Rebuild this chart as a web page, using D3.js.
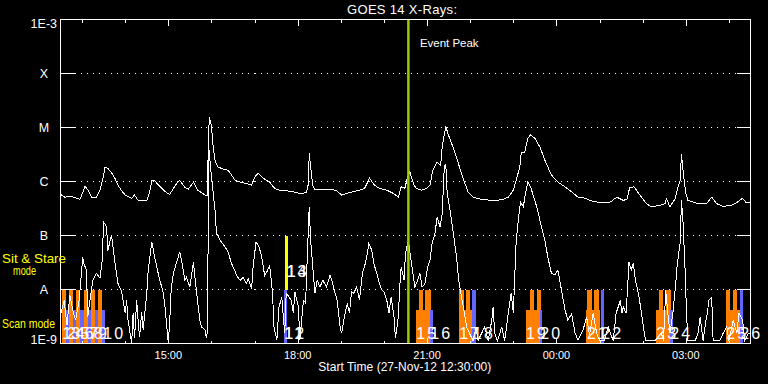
<!DOCTYPE html>
<html><head><meta charset="utf-8">
<script src="https://cdn.jsdelivr.net/npm/d3@7"></script>
<style>html,body{margin:0;padding:0;background:#000;}svg{display:block;}</style>
</head><body>
<svg id="chart" width="768" height="384"></svg>
<script>
// ---------------- data ----------------
const titleText = "GOES 14 X-Rays:";
const startText = "Start Time (27-Nov-12 12:30:00)";
const eventText = "Event Peak";
const startTime = Date.UTC(2012, 10, 27, 12, 30);
const spanMinutes = 960;
const levelValues = [-9, -8, -7, -6, -5, -4, -3];          // log10 flux (W/m^2)
const levelLabels = ["1E-9", "A", "B", "C", "M", "X", "1E-3"];
const eventPeakMinute = 484;

// [minutes after start, log10 flux]
const longChannel = [[0,-6.24],[6,-6.29],[15,-6.27],[20,-6.30],[27,-6.33],[31,-6.20],[34,-6.09],[38,-6.15],[43,-6.29],[50,-6.29],[55,-6.16],[59,-5.95],[62,-5.73],[66,-5.76],[71,-5.84],[76,-5.95],[80,-6.07],[85,-6.17],[90,-6.25],[99,-6.31],[103,-6.25],[108,-6.35],[120,-6.35],[124,-6.20],[127,-5.98],[131,-5.98],[135,-6.05],[141,-6.13],[147,-6.20],[152,-6.24],[157,-6.13],[162,-6.03],[166,-5.98],[173,-6.11],[178,-6.14],[185,-6.01],[191,-6.16],[201,-6.25],[204,-6.25],[206,-5.2],[207,-4.80],[210,-4.96],[212,-5.3],[215,-5.61],[219,-5.73],[226,-5.77],[233,-5.79],[238,-5.88],[243,-5.98],[250,-6.01],[259,-6.04],[266,-6.07],[270,-5.92],[275,-5.85],[282,-5.94],[291,-6.01],[298,-6.13],[305,-6.16],[314,-6.17],[324,-6.19],[333,-6.22],[342,-6.21],[345,-6.04],[346,-5.48],[348,-5.73],[351,-6.07],[354,-6.15],[361,-6.14],[370,-6.15],[377,-6.14],[384,-6.17],[391,-6.25],[398,-6.22],[407,-6.19],[416,-6.16],[423,-6.13],[430,-5.94],[437,-6.07],[444,-6.13],[454,-6.16],[463,-6.22],[470,-6.29],[474,-6.10],[479,-6.13],[483,-5.91],[486,-5.82],[491,-6.04],[495,-6.13],[502,-6.16],[509,-6.13],[514,-6.07],[518,-5.79],[524,-5.64],[529,-5.70],[531,-5.36],[536,-4.98],[539,-5.11],[546,-5.36],[553,-5.64],[560,-5.94],[567,-6.19],[574,-6.29],[586,-6.33],[600,-6.35],[614,-6.34],[623,-6.29],[630,-6.16],[634,-5.98],[639,-5.73],[641,-5.47],[646,-5.46],[650,-5.20],[654,-5.14],[660,-5.20],[667,-5.36],[674,-5.61],[683,-5.88],[692,-6.01],[702,-6.10],[711,-6.19],[720,-6.29],[730,-6.31],[736,-6.35],[750,-6.39],[764,-6.39],[774,-6.29],[783,-6.35],[788,-6.33],[792,-6.11],[798,-6.10],[806,-6.25],[815,-6.41],[822,-6.47],[834,-6.44],[841,-6.41],[843,-6.32],[848,-6.47],[855,-6.32],[858,-6.16],[862,-5.98],[864,-5.50],[867,-5.90],[870,-6.22],[873,-6.35],[885,-6.40],[899,-6.41],[906,-6.29],[913,-6.41],[922,-6.46],[934,-6.44],[941,-6.39],[949,-6.31],[954,-6.39],[960,-6.40]];

const shortChannel = [[0,-8.48],[5,-8.2],[9,-8.66],[13,-8.1],[17,-8.38],[21,-8.57],[26,-8.2],[31,-7.40],[32,-7.50],[36,-7.64],[38,-8.5],[41,-8.2],[45,-7.83],[50,-7.70],[55,-7.79],[58,-7.46],[60,-6.75],[64,-6.84],[66,-7.28],[69,-7.09],[71,-7.00],[76,-7.52],[80,-7.89],[85,-8.04],[90,-8.44],[92,-8.2],[94,-8.57],[99,-9.0],[101,-8.44],[103,-8.9],[106,-8.2],[108,-8.57],[110,-8.88],[113,-8.42],[115,-8.75],[120,-8.07],[122,-7.64],[127,-7.12],[131,-7.40],[138,-7.83],[142,-8.0],[145,-8.26],[150,-9.0],[152,-8.57],[154,-8.0],[157,-7.70],[161,-7.52],[166,-7.30],[170,-7.58],[173,-7.83],[175,-7.77],[180,-7.95],[185,-7.49],[187,-7.77],[191,-8.26],[194,-8.57],[196,-8.69],[201,-8.75],[203,-8.9],[204.5,-8.75],[206.3,-5.36],[210,-5.91],[215,-6.53],[217,-6.96],[222,-7.09],[229,-7.21],[233,-7.30],[238,-7.52],[243,-7.67],[245,-7.74],[250,-7.83],[254,-7.78],[259,-7.89],[261,-7.80],[266,-7.98],[268,-7.58],[272,-7.12],[276,-7.20],[280,-7.40],[284,-7.74],[288,-7.65],[291,-7.55],[295,-8.07],[297,-8.69],[301,-8.94],[304,-8.32],[308,-8.15],[310,-8.51],[312,-8.81],[314,-8.07],[318,-8.14],[321,-8.20],[324,-8.44],[326,-8.04],[331,-8.32],[333,-8.94],[338,-8.20],[341,-8.25],[343,-7.52],[346,-6.47],[348,-7.09],[351,-7.58],[354,-8.07],[357,-7.83],[361,-7.95],[365,-7.83],[370,-7.95],[375,-7.74],[378,-7.85],[382,-8.07],[385,-8.20],[389,-8.69],[391,-8.81],[396,-8.44],[399,-8.26],[402,-8.44],[405,-8.04],[408,-8.07],[412,-7.95],[416,-8.20],[420,-7.70],[423,-7.58],[427,-7.33],[429,-7.15],[433,-7.27],[436,-7.52],[440,-7.70],[443,-7.85],[447,-8.01],[450,-8.04],[454,-8.20],[457,-8.44],[460,-8.14],[464,-8.51],[466,-8.90],[470,-8.51],[472,-7.95],[474,-7.58],[478,-7.83],[480,-7.33],[484,-7.09],[487,-7.40],[491,-7.77],[493,-7.95],[497,-7.83],[500,-7.70],[503,-7.95],[507,-7.90],[511,-7.58],[514,-7.46],[517,-7.15],[521,-6.96],[524,-6.66],[528,-6.84],[531,-6.60],[534,-5.73],[536,-5.67],[538,-6.22],[542,-6.53],[546,-6.90],[551,-7.40],[554,-7.83],[558,-8.14],[562,-8.44],[565,-8.69],[569,-8.81],[574,-8.95],[578,-8.70],[581,-8.94],[586,-8.81],[590,-8.69],[595,-8.95],[600,-8.57],[602,-8.32],[604,-8.81],[608,-8.95],[614,-8.69],[618,-8.95],[623,-8.44],[627,-8.07],[630,-8.44],[632,-7.77],[634,-7.09],[638,-6.59],[640,-6.38],[644,-6.47],[646,-6.29],[650,-6.01],[654,-6.10],[660,-6.35],[665,-6.59],[669,-6.84],[674,-7.09],[678,-7.40],[683,-7.70],[688,-7.73],[692,-7.64],[697,-8.01],[702,-8.38],[706,-8.57],[711,-8.45],[716,-8.81],[720,-8.94],[725,-8.81],[727,-8.75],[732,-8.51],[736,-8.85],[741,-8.44],[746,-8.81],[750,-8.95],[757,-8.95],[762,-8.69],[769,-8.95],[773,-8.44],[776,-8.32],[779,-8.20],[781,-8.44],[783,-8.32],[787,-8.44],[789,-7.95],[791,-7.49],[794,-7.64],[797,-7.52],[800,-7.83],[804,-8.07],[807,-8.32],[811,-8.69],[814,-8.94],[827,-8.95],[836,-8.81],[839,-8.95],[842,-8.01],[845,-8.44],[848,-8.81],[852,-8.44],[856,-7.89],[858,-7.55],[862,-7.15],[864,-6.35],[866,-6.72],[869,-7.64],[871,-8.44],[873,-8.95],[883,-8.95],[887,-8.81],[890,-8.51],[894,-8.95],[898,-8.57],[900,-8.44],[902,-8.20],[906,-8.14],[908,-8.95],[917,-8.95],[922,-8.81],[927,-8.69],[930,-8.95],[936,-8.57],[941,-8.81],[944,-8.44],[949,-8.57],[952,-8.95],[957,-8.81],[960,-8.81]];

// observation bars: [start minute, end minute, kind]
const obsBars = [
  [6,61.6,"blueShort"],
  [1.4,7.4,"orangeTall"],[11.5,17.5,"orangeTall"],[21.3,27.8,"orangeTall"],[32,37.6,"orangeTall"],[42.2,48.1,"orangeTall"],[52.3,57.9,"orangeTall"],
  [311,314.5,"blueTall"],[313,317,"stare"],
  [494.3,513.8,"orangeShort"],[498.5,504.5,"orangeTall"],[507.8,514.8,"orangeTall"],[513.8,518.4,"blueShort"],
  [554.2,574,"orangeShort"],[554.2,561.1,"orangeTall"],[564,569.6,"orangeTall"],[573.2,577.4,"blueTall"],
  [647,668.3,"orangeShort"],[653,658.6,"orangeTall"],[662.7,668.3,"orangeTall"],[666.8,670.6,"blueShort"],
  [731.8,751.3,"orangeShort"],[732.6,738.8,"orangeTall"],[742.4,749,"orangeTall"],[751.7,755.9,"blueTall"],
  [828.2,847.7,"orangeShort"],[832.8,838.4,"orangeTall"],[842.2,848.7,"orangeTall"],[847.7,851.5,"blueShort"],
  [925.6,945.1,"orangeShort"],[925.6,931.2,"orangeTall"],[935,941.4,"orangeTall"],[945.1,948.9,"blueTall"]
];
// observation numbers: [label, minute, band]
const obsLabels = [
  ["1",1.8,"scan"],["2",8.1,"scan"],["3",14.3,"scan"],["4",20.6,"scan"],["5",26.9,"scan"],
  ["6",33.1,"scan"],["7",39.4,"scan"],["8",45.6,"scan"],["9",51.9,"scan"],["10",58.9,"scan"],
  ["11",310.7,"scan"],["12",310.7,"scan"],["13",314,"stare"],["14",314,"stare"],
  ["15",494.3,"scan"],["16",513.8,"scan"],["17",554.2,"scan"],["18",573.2,"scan"],
  ["19",647,"scan"],["20",666.8,"scan"],["21",731.8,"scan"],["22",751.7,"scan"],
  ["23",828.2,"scan"],["24",847.7,"scan"],["25",925.6,"scan"],["26",945.1,"scan"]
];

// ---------------- styles ----------------
const barStyle = {
  orangeTall:  {color:"#ff8000", top:-8,    bottom:-9},
  orangeShort: {color:"#ff8000", top:-8.38, bottom:-9},
  blueShort:   {color:"#6464ff", top:-8.38, bottom:-9},
  blueTall:    {color:"#6464ff", top:-8,    bottom:-9},
  stare:       {color:"#ffff00", top:-7,    bottom:-8}
};
const FONT = "'Liberation Sans', Arial, sans-serif";

// ---------------- chart ----------------
const svg = d3.select("#chart");
svg.append("rect").attr("width",768).attr("height",384).attr("fill","#000");

const t0 = new Date(startTime);
const tAt = m => new Date(startTime + m * 60000);
const L = 60.5, R = 750.5, T = 19.5, B = 343.5;
const x = d3.scaleUtc().domain([t0, tAt(spanMinutes)]).range([L, R]);
const y = d3.scaleLinear().domain([-9, -3]).range([B, T]);

// dotted grid
const inner = levelValues.slice(1, -1);
svg.append("g").selectAll("line").data(inner).join("line")
  .attr("x1", L + 14).attr("x2", R - 14)
  .attr("y1", d => y(d)).attr("y2", d => y(d))
  .attr("stroke","#fff").attr("stroke-width",1).attr("stroke-dasharray","1,5")
  .attr("shape-rendering","crispEdges");

// bars
svg.append("g").selectAll("rect").data(obsBars).join("rect")
  .attr("x", d => x(tAt(d[0])))
  .attr("width", d => x(tAt(d[1])) - x(tAt(d[0])))
  .attr("y", d => y(barStyle[d[2]].top))
  .attr("height", d => y(barStyle[d[2]].bottom) - y(barStyle[d[2]].top))
  .attr("fill", d => barStyle[d[2]].color)
  .attr("shape-rendering","crispEdges");

// curves
const line = d3.line().x(d => x(tAt(d[0]))).y(d => y(Math.max(-9, Math.min(-3, d[1]))));
[longChannel, shortChannel].forEach(s => {
  svg.append("path").datum(s).attr("d", line)
    .attr("fill","none").attr("stroke","#fff").attr("stroke-width",1)
    .attr("shape-rendering","crispEdges");
});

// event peak line
svg.append("line")
  .attr("x1", x(tAt(eventPeakMinute))).attr("x2", x(tAt(eventPeakMinute)))
  .attr("y1", T).attr("y2", B)
  .attr("stroke","#99cc00").attr("stroke-width",2.5);
svg.append("text").text(eventText)
  .attr("x", x(tAt(eventPeakMinute)) + 11.5).attr("y", 47)
  .attr("fill","#fff").attr("font-family",FONT).attr("font-size",11.5)
  .attr("textLength",58.7).attr("lengthAdjust","spacing");

// frame
svg.append("rect").attr("x",L).attr("y",T).attr("width",R-L).attr("height",B-T)
  .attr("fill","none").attr("stroke","#fff").attr("stroke-width",1)
  .attr("shape-rendering","crispEdges");

// y ticks (left & right)
const yt = svg.append("g").attr("stroke","#fff").attr("shape-rendering","crispEdges");
inner.forEach(v => {
  yt.append("line").attr("x1",L).attr("x2",L+14).attr("y1",y(v)).attr("y2",y(v));
  yt.append("line").attr("x1",R-14).attr("x2",R).attr("y1",y(v)).attr("y2",y(v));
});

// x ticks (top & bottom)
const hourTicks = x.ticks(d3.utcHour.every(1));
const xt = svg.append("g").attr("stroke","#fff").attr("shape-rendering","crispEdges");
hourTicks.forEach(t => {
  const major = t.getUTCHours() % 3 === 0;
  const len = major ? 6 : 3;
  const xx = Math.round(x(t)) + 0.5;
  xt.append("line").attr("x1",xx).attr("x2",xx).attr("y1",T).attr("y2",T+len);
  xt.append("line").attr("x1",xx).attr("x2",xx).attr("y1",B).attr("y2",B-len);
});
const fmt = d3.utcFormat("%H:%M");
svg.append("g").selectAll("text").data(hourTicks.filter(t => t.getUTCHours() % 3 === 0)).join("text")
  .text(d => fmt(d)).attr("x", d => x(d)).attr("y", 359)
  .attr("text-anchor","middle").attr("fill","#fff")
  .attr("font-family",FONT).attr("font-size",11);

// y labels
levelValues.forEach((v, i) => {
  const t = svg.append("text").text(levelLabels[i]).attr("fill","#fff")
    .attr("font-family",FONT).attr("font-size",12.5);
  if (i === 0) t.attr("x",57).attr("y",y(v)).attr("text-anchor","end");
  else if (i === levelValues.length - 1) t.attr("x",57).attr("y",y(v)+8).attr("text-anchor","end");
  else t.attr("x",44).attr("y",y(v)+4.5).attr("text-anchor","middle");
});

// mode labels
const modeLabel = (txt, xx, yy, len) => svg.append("text").text(txt)
  .attr("x",xx).attr("y",yy).attr("fill","#ffff00").attr("font-family",FONT).attr("font-size",13.5)
  .attr("textLength",len).attr("lengthAdjust","spacingAndGlyphs");
modeLabel("Sit & Stare", 2, 263, 64);
modeLabel("mode", 13, 275, 23);
modeLabel("Scan mode", 2, 328, 53);

// observation numbers
svg.append("g").selectAll("text").data(obsLabels).join("text")
  .text(d => d[0])
  .attr("x", d => x(tAt(d[1])) + 0.5)
  .attr("y", d => d[2] === "scan" ? 339 : 277)
  .attr("fill","#fff").attr("font-family",FONT).attr("font-size",16)
  .attr("letter-spacing",2);

// title & footer
svg.append("text").text(titleText).attr("x",402).attr("y",14).attr("text-anchor","middle")
  .attr("fill","#fff").attr("font-family",FONT).attr("font-size",13)
  .attr("textLength",110).attr("lengthAdjust","spacing");
svg.append("text").text(startText).attr("x",318.3).attr("y",371)
  .attr("fill","#fff").attr("font-family",FONT).attr("font-size",12)
  .attr("textLength",173).attr("lengthAdjust","spacing");
</script>
</body></html>
